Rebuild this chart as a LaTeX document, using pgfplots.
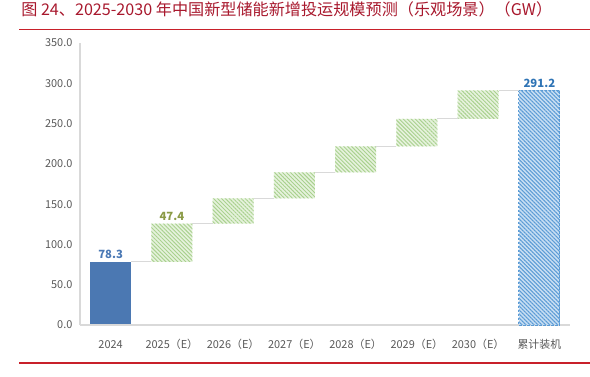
\documentclass[border=0pt]{standalone}
\usepackage{fontspec}
\setmainfont{Noto Sans CJK SC}
\usepackage{pgfplots}
\usepackage{pgfplotstable}
\pgfplotsset{compat=1.18}
\usetikzlibrary{patterns.meta}
\definecolor{titlered}{HTML}{A8182D}
\definecolor{redline}{HTML}{C8202A}
\definecolor{labelgray}{HTML}{595959}
\definecolor{axisgray}{HTML}{D9D9D9}
\definecolor{bar24}{HTML}{4B78B2}
\definecolor{hatchgreen}{HTML}{A9D18E}
\definecolor{palegreen}{HTML}{E6F2DD}
\definecolor{totalblue}{HTML}{5B9BD5}
\definecolor{paleblue}{HTML}{C9DFF3}
\definecolor{lab24}{HTML}{4A78B4}
\definecolor{labgreen}{HTML}{8B9A46}
\definecolor{labtotal}{HTML}{2F74B5}

\pgfplotstableread{
x base first inc
0 0 78.3 0
1 78.3 0 47.4
2 125.7 0 31.6
3 157.3 0 32.0
4 189.3 0 32.5
5 221.8 0 34.0
6 255.8 0 35.4
}\wfdata

\pgfplotstableread{
x y
0.335 78.3
0.665 78.3
nan nan
1.335 125.7
1.665 125.7
nan nan
2.335 157.3
2.665 157.3
nan nan
3.335 189.3
3.665 189.3
nan nan
4.335 221.8
4.665 221.8
nan nan
5.335 255.8
5.665 255.8
nan nan
6.335 291.2
6.665 291.2
}\connectors

\pgfplotsset{wf/.style={scale only axis, width=367.5pt, height=211.5pt,
  at={(60pt,39pt)}, anchor=south west, xmin=-0.5, xmax=7.5, ymin=0, ymax=350,
  bar width=30.75pt}}

\begin{document}
\begin{tikzpicture}
\useasboundingbox (0,0) rectangle (442.5pt,282.75pt);
\draw[redline, line width=0.8pt] (14.25pt,260.6pt) -- (442.5pt,260.6pt);
\draw[redline, line width=0.8pt] (14.25pt,10.5pt) -- (442.5pt,10.5pt);
\node[anchor=west, inner sep=0pt, text=titlered, font=\fontsize{12.1}{13}\selectfont]
  at (15.75pt,275.5pt) {图 24、2025-2030 年中国新型储能新增投运规模预测（乐观场景）（GW）};

\begin{axis}[wf, ybar stacked, hide axis]
\addplot[draw=none, fill=none] table[x=x, y=base] {\wfdata};
\addplot[draw=none, fill=bar24] table[x=x, y=first] {\wfdata};
\addplot[draw=none, fill=palegreen,
  postaction={pattern={Lines[angle=-45, distance=2.1pt, line width=0.7pt]}, pattern color=hatchgreen}]
  table[x=x, y=inc] {\wfdata};
\end{axis}

\begin{axis}[wf,
  axis x line=bottom, axis y line=left,
  axis line style={draw=axisgray, line width=0.8pt, -},
  xtick={0,...,7},
  xticklabels={2024,2025（E）,2026（E）,2027（E）,2028（E）,2029（E）,2030（E）,累计装机},
  ytick={0,50,...,350},
  major tick length=0pt,
  tick label style={font=\fontsize{8.2}{9}\selectfont, text=labelgray},
  xticklabel style={anchor=base, yshift=-18pt},
  yticklabel style={anchor=east, inner sep=0pt, xshift=-5.5pt,
    /pgf/number format/.cd, fixed, fixed zerofill, precision=1},
  /pgf/number format/assume math mode=true,
  unbounded coords=jump,
  clip=false]
\addplot[ybar, bar shift=0pt, bar width=30.75pt, draw=totalblue, line width=0.6pt,
  dash pattern=on 2pt off 1pt, fill=paleblue,
  postaction={pattern={Lines[angle=-45, distance=2.1pt, line width=0.8pt]}, pattern color=totalblue}]
  coordinates {(7,291.2)};
\addplot[draw=axisgray, line width=0.7pt, mark=none] table[x=x, y=y] {\connectors};
\addplot[draw=none, mark=none, nodes near coords, point meta=explicit symbolic,
  nodes near coords style={text=lab24, font=\fontsize{8.5}{9}\selectfont\bfseries, anchor=south, inner sep=2pt}]
  coordinates {(0,78.3) [78.3]};
\addplot[draw=none, mark=none, nodes near coords, point meta=explicit symbolic,
  nodes near coords style={text=labgreen, font=\fontsize{8.5}{9}\selectfont\bfseries, anchor=south, inner sep=2pt}]
  coordinates {(1,125.7) [47.4]};
\addplot[draw=none, mark=none, nodes near coords, point meta=explicit symbolic,
  nodes near coords style={text=labtotal, font=\fontsize{8.5}{9}\selectfont\bfseries, anchor=south, inner sep=2pt}]
  coordinates {(7,291.2) [291.2]};
\end{axis}
\end{tikzpicture}
\end{document}
